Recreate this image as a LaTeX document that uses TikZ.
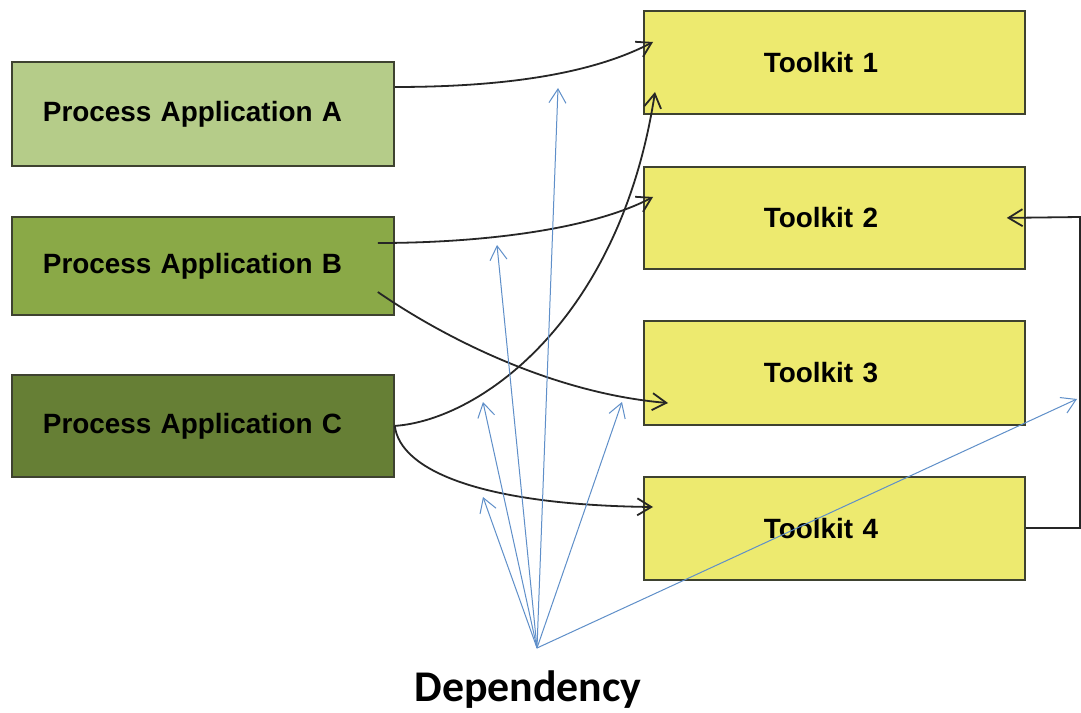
\documentclass[tikz,border=0pt]{standalone}
\usepackage{fontspec}
\setmainfont{Liberation Sans}
\newfontfamily\depfont{Carlito}
\usetikzlibrary{arrows.meta}
\definecolor{appA}{HTML}{B5CC89}
\definecolor{appB}{HTML}{8AA947}
\definecolor{appC}{HTML}{667F35}
\definecolor{kit}{HTML}{EDEA6F}
\definecolor{edge}{HTML}{3E4230}
\definecolor{dep}{HTML}{5F8FC9}
\definecolor{link}{HTML}{262626}

\begin{document}
\begin{tikzpicture}[x=1bp,y=-1bp,
  boxfont/.style={font=\fontsize{28}{30}\selectfont\bfseries},
  appbox/.style={boxfont, draw=edge, line width=1.8bp, anchor=north west,
    minimum width=382bp, inner xsep=31bp, text width=320bp, align=left},
  kitbox/.style={boxfont, draw=edge, fill=kit, line width=1.8bp, anchor=north west,
    minimum width=381bp, inner xsep=120bp, text width=141bp, align=left},
  uses/.style={draw=link, line width=1.8bp, -{Straight Barb[length=14bp,width=17bp]}},
  depends/.style={draw=dep, line width=1bp, -{Straight Barb[length=14bp,width=17bp]}}]

\useasboundingbox (0,0) rectangle (1081,713);
\fill[white] (0,0) rectangle (1081,713);

% process applications
\node[appbox, fill=appA, minimum height=104bp] (A) at (11,61) {Process Application A};
\node[appbox, fill=appB, minimum height=98bp]  (B) at (11,216) {Process Application B};
\node[appbox, fill=appC, minimum height=102bp] (C) at (11,374) {Process Application C};

% toolkits
\node[kitbox, minimum height=103bp] (T1) at (643,10)  {Toolkit 1};
\node[kitbox, minimum height=102bp] (T2) at (643,166) {Toolkit 2};
\node[kitbox, minimum height=104bp] (T3) at (643,320) {Toolkit 3};
\node[kitbox, minimum height=103bp] (T4) at (643,476) {Toolkit 4};

% caption
\node[font=\depfont\bfseries\fontsize{44}{48}\selectfont, anchor=base] (D) at (528,701) {Dependency};

% application -> toolkit links
\draw[uses] ([shift={(0,26)}]A.north east) .. controls (500,87) and (590,75) .. ([shift={(10,32)}]T1.north west);
\draw[uses] (C.east) .. controls (480,420) and (620,320) .. ([shift={(12,82)}]T1.north west);
\draw[uses] ([shift={(-17,27)}]B.north east) .. controls (480,243) and (590,230) .. ([shift={(10,31)}]T2.north west);
\draw[uses] ([shift={(-17,76)}]B.north east) .. controls (440,335) and (550,393) .. ([shift={(25,83)}]T3.north west);
\draw[uses] (C.east) .. controls (400,470) and (480,505) .. ([shift={(10,31)}]T4.north west);

% toolkit 4 -> toolkit 2
\coordinate (loop) at (1080,217);
\draw[uses] ([shift={(0,52)}]T4.north east) -| (loop) -- ([shift={(-19,0)}]T2.east);

% dependency fan
\coordinate (src) at (537,648);
\coordinate (d1) at (483,497);
\coordinate (d2) at (483,402);
\coordinate (d3) at (497,245);
\coordinate (d4) at (558,88);
\coordinate (d5) at (622,402);
\coordinate (d6) at (1077,399);
\foreach \t in {d1,d2,d3,d4,d5,d6}
  \draw[depends] (src) -- (\t);
\end{tikzpicture}
\end{document}
